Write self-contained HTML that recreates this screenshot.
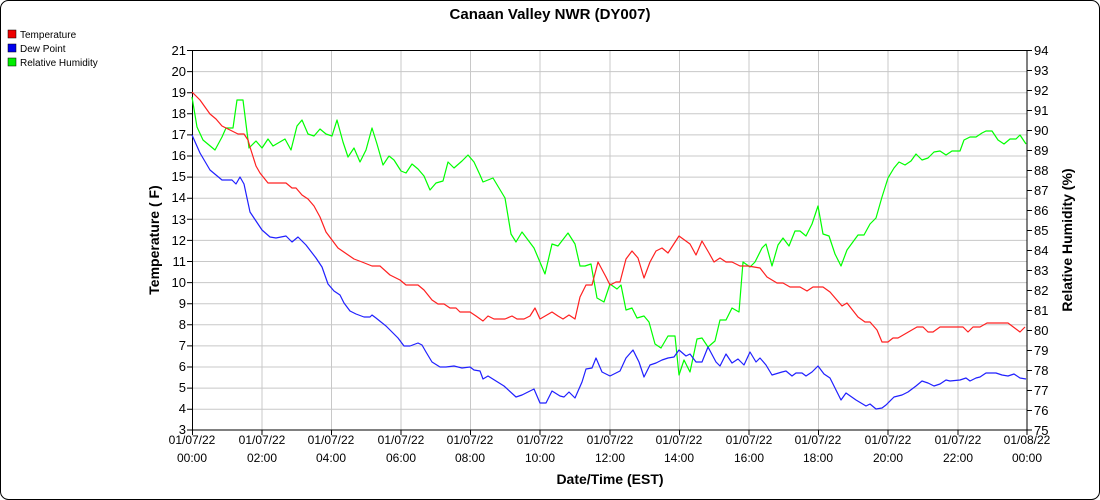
<!DOCTYPE html>
<html><head><style>body{margin:0;background:#fff}svg{display:block}</style></head><body>
<svg width="1100" height="500" xmlns="http://www.w3.org/2000/svg" font-family="Liberation Sans, sans-serif">
<rect x="0.5" y="0.5" width="1099" height="499" rx="8" fill="#fff" stroke="#000"/>
<text x="550" y="19" text-anchor="middle" font-size="15" font-weight="bold">Canaan Valley NWR (DY007)</text>
<g font-size="10">
<rect x="8" y="30" width="8" height="8" fill="#e00" stroke="#000" stroke-width="0.5"/><text x="20" y="38">Temperature</text>
<rect x="8" y="44" width="8" height="8" fill="#00e" stroke="#000" stroke-width="0.5"/><text x="20" y="52">Dew Point</text>
<rect x="8" y="58" width="8" height="8" fill="#0e0" stroke="#000" stroke-width="0.5"/><text x="20" y="66">Relative Humidity</text>
</g>
<g stroke="#c8c8c8">
<path d="M192 50.5H1027M192 71.6H1027M192 92.7H1027M192 113.8H1027M192 134.9H1027M192 156H1027M192 177.1H1027M192 198.2H1027M192 219.3H1027M192 240.4H1027M192 261.5H1027M192 282.6H1027M192 303.7H1027M192 324.8H1027M192 345.9H1027M192 367H1027M192 388.1H1027M192 409.2H1027"/>
<path d="M262 50V430M331.5 50V430M401 50V430M470.5 50V430M540 50V430M610 50V430M679.5 50V430M749 50V430M818.5 50V430M888 50V430M958 50V430"/>
</g>
<g stroke="#000" fill="none">
<path d="M192.5 50V430H1027M1027 50V430M192 50.5H1027"/>
<path d="M187 50.5h5M187 71.6h5M187 92.7h5M187 113.8h5M187 134.9h5M187 156h5M187 177.1h5M187 198.2h5M187 219.3h5M187 240.4h5M187 261.5h5M187 282.6h5M187 303.7h5M187 324.8h5M187 345.9h5M187 367h5M187 388.1h5M187 409.2h5M187 430h5"/>
<path d="M1027 50.5h5M1027 70.5h5M1027 90.5h5M1027 110.5h5M1027 130.5h5M1027 150.5h5M1027 170.5h5M1027 190.5h5M1027 210.5h5M1027 230.5h5M1027 250.5h5M1027 270.5h5M1027 290.5h5M1027 310.5h5M1027 330.5h5M1027 350.5h5M1027 370.5h5M1027 390.5h5M1027 410.5h5M1027 430h5"/>
<path d="M192.5 430v5M262 430v5M331.5 430v5M401 430v5M470.5 430v5M540 430v5M610 430v5M679.5 430v5M749 430v5M818.5 430v5M888 430v5M958 430v5M1027 430v5"/>
</g>
<g font-size="13" text-anchor="end">
<text x="186" y="55">21</text><text x="186" y="76">20</text><text x="186" y="97">19</text><text x="186" y="118">18</text><text x="186" y="139">17</text><text x="186" y="160">16</text><text x="186" y="181">15</text><text x="186" y="202">14</text><text x="186" y="224">13</text><text x="186" y="245">12</text><text x="186" y="266">11</text><text x="186" y="287">10</text><text x="186" y="308">9</text><text x="186" y="329">8</text><text x="186" y="350">7</text><text x="186" y="371">6</text><text x="186" y="392">5</text><text x="186" y="413">4</text><text x="186" y="434">3</text>
</g>
<g font-size="13">
<text x="1034" y="55">94</text><text x="1034" y="75">93</text><text x="1034" y="95">92</text><text x="1034" y="115">91</text><text x="1034" y="135">90</text><text x="1034" y="155">89</text><text x="1034" y="175">88</text><text x="1034" y="195">87</text><text x="1034" y="215">86</text><text x="1034" y="235">85</text><text x="1034" y="255">84</text><text x="1034" y="275">83</text><text x="1034" y="295">82</text><text x="1034" y="315">81</text><text x="1034" y="335">80</text><text x="1034" y="355">79</text><text x="1034" y="375">78</text><text x="1034" y="395">77</text><text x="1034" y="415">76</text><text x="1034" y="435">75</text>
</g>
<g font-size="12" text-anchor="middle">
<text x="192" y="444">01/07/22</text><text x="192" y="462">00:00</text>
<text x="262" y="444">01/07/22</text><text x="262" y="462">02:00</text>
<text x="331" y="444">01/07/22</text><text x="331" y="462">04:00</text>
<text x="401" y="444">01/07/22</text><text x="401" y="462">06:00</text>
<text x="470" y="444">01/07/22</text><text x="470" y="462">08:00</text>
<text x="540" y="444">01/07/22</text><text x="540" y="462">10:00</text>
<text x="610" y="444">01/07/22</text><text x="610" y="462">12:00</text>
<text x="679" y="444">01/07/22</text><text x="679" y="462">14:00</text>
<text x="749" y="444">01/07/22</text><text x="749" y="462">16:00</text>
<text x="818" y="444">01/07/22</text><text x="818" y="462">18:00</text>
<text x="888" y="444">01/07/22</text><text x="888" y="462">20:00</text>
<text x="958" y="444">01/07/22</text><text x="958" y="462">22:00</text>
<text x="1027" y="444">01/08/22</text><text x="1027" y="462">00:00</text>
</g>
<text x="610" y="484" text-anchor="middle" font-size="14" font-weight="bold">Date/Time (EST)</text>
<text transform="translate(159,240) rotate(-90)" text-anchor="middle" font-size="14" font-weight="bold">Temperature ( F)</text>
<text transform="translate(1072,240) rotate(-90)" text-anchor="middle" font-size="14" font-weight="bold">Relative Humidity (%)</text>
<g fill="none" stroke-width="1.2" stroke-linejoin="round">
<polyline stroke="#00ff00" points="192,97 197,127 203,140 215,150 222,137 226,128 233,128 237,100 243,100 249,148 256,141 262,148 268,139 273,146 285,139 291,150 297,126 302,120 308,134 314,136 320,129 326,134 332,136 337,120 343,142 348,157 354,148 360,162 366,150 372,128 377,144 383,165 389,156 394,160 401,171 406,173 412,164 418,169 424,176 430,190 436,183 443,181 448,162 454,168 462,161 468,155 474,162 480,175 483,182 493,178 505,198 511,234 516,242 522,232 534,248 545,274 552,244 558,246 568,233 575,244 580,266 585,266 591,264 597,298 604,302 610,284 617,289 621,285 626,310 632,308 637,318 644,316 649,322 655,344 661,348 668,336 675,336 679,375 684,360 690,372 697,339 702,338 708,347 715,341 720,320 726,320 732,308 739,312 743,262 750,267 755,262 762,248 766,244 772,266 778,245 783,238 789,246 795,231 800,231 806,236 812,224 818,206 823,234 829,236 835,254 841,266 847,250 858,235 864,235 870,224 876,218 882,197 888,178 894,168 899,162 905,165 911,161 916,154 922,160 928,158 934,152 940,151 946,155 952,151 960,151 964,140 970,137 976,137 982,133 986,131 992,131 998,140 1004,144 1010,139 1016,139 1020,135 1026,144"/>
<polyline stroke="#ff2020" points="192,92 200,100 210,114 216,119 222,126 230,130 238,134 244,134 248,140 250,147 256,166 260,173 268,183 286,183 292,188 296,188 302,195 308,199 314,206 320,217 326,232 338,248 354,259 362,262 372,266 380,266 390,275 400,280 406,285 418,285 424,290 432,300 438,304 444,304 450,308 456,308 460,312 470,312 476,316 483,321 488,316 494,319 505,319 512,316 517,319 524,319 530,316 535,308 540,319 552,312 558,316 563,319 569,315 575,319 580,297 586,285 592,285 598,262 606,277 610,285 616,282 620,282 626,259 632,251 638,258 644,278 650,262 656,251 662,248 668,253 679,236 690,244 696,255 702,241 709,253 714,262 720,258 726,262 732,262 740,266 748,266 760,268 767,277 777,283 783,283 790,287 800,287 807,291 813,287 823,287 830,292 842,306 847,303 858,317 865,322 870,322 877,330 882,342 888,342 893,338 898,338 917,327 923,327 928,332 933,332 940,327 963,327 968,332 973,327 980,327 987,323 1008,323 1020,332 1025,327"/>
<polyline stroke="#2020ff" points="192,135 200,153 210,170 222,180 232,180 236,184 240,177 244,184 250,212 262,230 270,237 276,238 286,236 292,242 298,237 306,245 316,258 322,267 328,284 334,291 340,295 344,303 350,311 356,314 364,317 370,317 372,315 376,318 386,326 398,338 404,346 410,346 418,343 422,345 426,352 432,362 440,367 446,367 454,366 462,368 470,367 474,370 480,371 483,379 488,376 504,386 516,397 522,395 528,392 534,389 540,403 546,403 552,391 560,396 564,397 569,392 575,398 582,382 586,369 592,368 596,358 602,372 610,376 616,373 620,371 626,358 633,350 639,362 644,377 650,365 656,363 662,360 668,358 674,357 679,350 686,356 690,354 696,362 702,362 708,347 716,362 720,366 726,354 732,363 738,359 744,365 750,352 756,362 760,358 766,365 772,375 782,372 786,371 792,376 796,373 802,373 806,376 812,372 818,366 824,374 830,378 836,390 841,400 846,393 856,400 866,406 870,404 876,409 882,408 886,405 894,397 902,395 908,392 916,386 922,381 928,383 934,386 940,384 946,380 950,381 960,380 966,378 970,381 976,378 980,377 986,373 996,373 1002,375 1008,376 1014,374 1020,378 1026,379"/>
</g>
</svg>
</body></html>
